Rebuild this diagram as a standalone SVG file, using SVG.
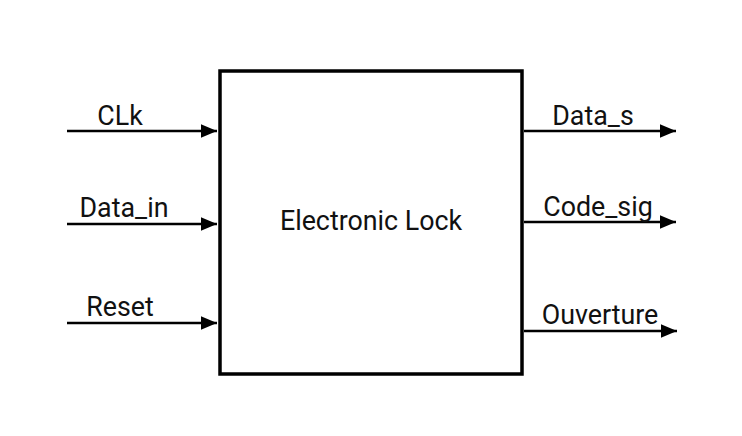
<svg xmlns="http://www.w3.org/2000/svg" width="742" height="436" viewBox="0 0 742 436">
<style>
.t{font-family:Roboto,"Liberation Sans",sans-serif;font-size:26.8px;fill:#111}
.w{stroke:#000;stroke-width:2.5;fill:none}
</style>
<defs>
<marker id="ah" viewBox="0 0 10 10" refX="10" refY="5" markerWidth="6.5" markerHeight="5.5" markerUnits="strokeWidth" orient="auto" preserveAspectRatio="none">
<path d="M0,0 L10,5 L0,10 z" fill="#000"/>
</marker>
</defs>
<rect width="742" height="436" fill="#fff"/>
<g id="lock">
<rect x="220" y="71" width="302" height="303" fill="#fff" stroke="#000" stroke-width="3.5"/>
<text class="t" x="371" y="230" text-anchor="middle">Electronic Lock</text>
</g>
<g id="connectors">
<line class="w" x1="67" y1="131" x2="217" y2="131" marker-end="url(#ah)"/>
<line class="w" x1="67" y1="224" x2="217" y2="224" marker-end="url(#ah)"/>
<line class="w" x1="67" y1="323" x2="217" y2="323" marker-end="url(#ah)"/>
<line class="w" x1="524" y1="131" x2="676" y2="131" marker-end="url(#ah)"/>
<line class="w" x1="524" y1="222" x2="676" y2="222" marker-end="url(#ah)"/>
<line class="w" x1="524" y1="331" x2="677" y2="331" marker-end="url(#ah)"/>
</g>
<g id="labels">
<text class="t" x="120" y="125" text-anchor="middle">CLk</text>
<text class="t" x="124" y="217" text-anchor="middle">Data_in</text>
<text class="t" x="120" y="316" text-anchor="middle">Reset</text>
<text class="t" x="593" y="125" text-anchor="middle">Data_s</text>
<text class="t" x="598" y="216" text-anchor="middle">Code_sig</text>
<text class="t" x="600" y="324" text-anchor="middle">Ouverture</text>
</g>
</svg>
